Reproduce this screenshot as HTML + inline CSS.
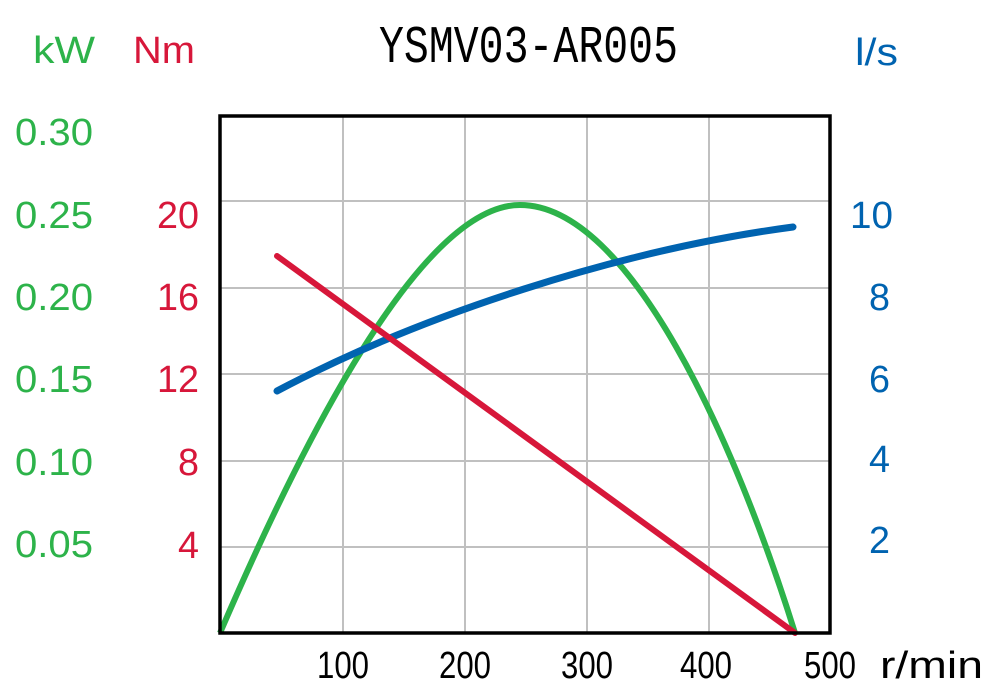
<!DOCTYPE html>
<html><head><meta charset="utf-8"><style>html,body{margin:0;padding:0;background:#fff}svg{display:block}</style></head>
<body>
<svg width="986" height="689" viewBox="0 0 986 689" xmlns="http://www.w3.org/2000/svg" font-family="Liberation Sans, DejaVu Sans, sans-serif">
<rect width="986" height="689" fill="#fff"/>
<g stroke="#c0c0c0" stroke-width="2">
<line x1="343" y1="117" x2="343" y2="632"/><line x1="465" y1="117" x2="465" y2="632"/>
<line x1="587" y1="117" x2="587" y2="632"/><line x1="709" y1="117" x2="709" y2="632"/>
<line x1="221" y1="201" x2="829" y2="201"/><line x1="221" y1="288" x2="829" y2="288"/>
<line x1="221" y1="374" x2="829" y2="374"/><line x1="221" y1="461" x2="829" y2="461"/>
<line x1="221" y1="547" x2="829" y2="547"/>
</g>
<path d="M220,633 C300,447 420,205 520,205 C630,205 735,441 795,633" fill="none" stroke="#2db34a" stroke-width="6"/>
<path d="M277,391 C420,315 620,250 793,227" fill="none" stroke="#0063b0" stroke-width="7" stroke-linecap="round"/>
<line x1="277" y1="256" x2="795" y2="633" stroke="#d7173a" stroke-width="6" stroke-linecap="round"/>
<rect x="220" y="116" width="610" height="517" fill="none" stroke="#000" stroke-width="3.5"/>
<text transform="translate(379,62) scale(1,1.2)" font-family="Liberation Mono, monospace" font-size="44" textLength="299" lengthAdjust="spacingAndGlyphs" fill="#000">YSMV03-AR005</text>
<g font-size="38" fill="#2db34a">
<text x="33" y="63" textLength="62" lengthAdjust="spacingAndGlyphs">kW</text>
<text x="15" y="145" textLength="78" lengthAdjust="spacingAndGlyphs">0.30</text>
<text x="15" y="228" textLength="78" lengthAdjust="spacingAndGlyphs">0.25</text>
<text x="15" y="310" textLength="78" lengthAdjust="spacingAndGlyphs">0.20</text>
<text x="15" y="392" textLength="78" lengthAdjust="spacingAndGlyphs">0.15</text>
<text x="15" y="475" textLength="78" lengthAdjust="spacingAndGlyphs">0.10</text>
<text x="15" y="557" textLength="78" lengthAdjust="spacingAndGlyphs">0.05</text>
</g>
<g font-size="38" fill="#d7173a">
<text x="133" y="63" textLength="62" lengthAdjust="spacingAndGlyphs">Nm</text>
<text x="157" y="228" textLength="42" lengthAdjust="spacingAndGlyphs">20</text>
<text x="157" y="310" textLength="42" lengthAdjust="spacingAndGlyphs">16</text>
<text x="157" y="392" textLength="42" lengthAdjust="spacingAndGlyphs">12</text>
<text x="178" y="475" textLength="21" lengthAdjust="spacingAndGlyphs">8</text>
<text x="178" y="558" textLength="21" lengthAdjust="spacingAndGlyphs">4</text>
</g>
<g font-size="38" fill="#0063b0">
<text x="855" y="65" textLength="43" lengthAdjust="spacingAndGlyphs">l/s</text>
<text x="850" y="228" textLength="43" lengthAdjust="spacingAndGlyphs">10</text>
<text x="869" y="310" textLength="21" lengthAdjust="spacingAndGlyphs">8</text>
<text x="869" y="392" textLength="21" lengthAdjust="spacingAndGlyphs">6</text>
<text x="869" y="472" textLength="21" lengthAdjust="spacingAndGlyphs">4</text>
<text x="869" y="553" textLength="21" lengthAdjust="spacingAndGlyphs">2</text>
</g>
<g font-size="38" fill="#000">
<text x="317" y="678" textLength="52" lengthAdjust="spacingAndGlyphs">100</text>
<text x="439" y="678" textLength="52" lengthAdjust="spacingAndGlyphs">200</text>
<text x="561" y="678" textLength="52" lengthAdjust="spacingAndGlyphs">300</text>
<text x="680" y="678" textLength="52" lengthAdjust="spacingAndGlyphs">400</text>
<text x="804" y="678" textLength="52" lengthAdjust="spacingAndGlyphs">500</text>
<text x="880" y="678" textLength="103" lengthAdjust="spacingAndGlyphs">r/min</text>
</g>
</svg>
</body></html>
